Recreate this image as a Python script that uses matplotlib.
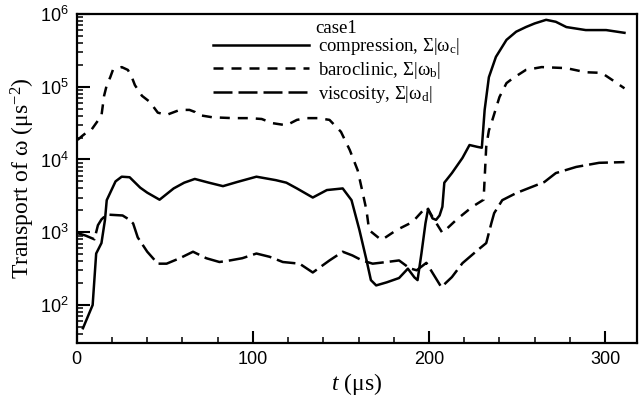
import math
import matplotlib
matplotlib.use('Agg')
import matplotlib.pyplot as plt
from matplotlib.ticker import LogLocator, FuncFormatter, MultipleLocator, NullFormatter

plt.rcParams['font.family'] = ['Liberation Serif', 'DejaVu Serif']
plt.rcParams['mathtext.fontset'] = 'custom'
plt.rcParams['mathtext.rm'] = 'Liberation Serif'
plt.rcParams['mathtext.it'] = 'Liberation Serif:italic'
plt.rcParams['mathtext.sf'] = 'Liberation Sans'

# compression (solid)
t_comp = [3.5, 9, 11, 14, 16, 17, 19, 22, 25.5, 30, 36, 40, 47, 55, 61, 67, 75, 83, 91, 102,
          113, 119, 125, 134, 142, 151, 156, 160.5, 164.5, 167, 170, 176, 183, 188, 191.7, 193.5,
          195.7, 198, 199.5, 202, 204, 206, 207.6, 208.7, 213, 219, 223, 227.5, 230, 231.6, 234,
          238, 244, 249.5, 255, 260, 266.5, 272, 278, 289, 300.6, 311]
v_comp = [48, 100, 510, 710, 1480, 2760, 3500, 5000, 5800, 5700, 4100, 3500, 2800, 4000, 4800, 5400,
          4800, 4300, 4900, 5800, 5200, 4800, 4000, 3000, 3800, 4000, 2760, 1070, 415, 220, 186, 205,
          235, 316, 240, 220, 510, 1330, 2100, 1550, 1480, 1700, 2240, 4800, 6500, 10500, 15800,
          14900, 14500, 48000, 135000, 257000, 440000, 570000, 660000, 740000, 830000, 780000,
          660000, 600000, 600000, 550000]

# baroclinic (short dash)
t_baro = [0.5, 3, 6, 8, 13, 14, 15.5, 17, 19, 20.5, 25.5, 29, 31, 33, 37, 41.4, 46, 51, 58.5, 64,
          67, 68.6, 77, 88.6, 98, 105, 111, 119, 125, 130.5, 137, 143.5, 150, 155, 159.5, 162,
          164.5, 166, 173, 181.5, 190.6, 198.5, 203, 207.6, 215.5, 224.6, 231, 232.5, 234, 236,
          240, 244, 247.5, 255, 264, 278, 289, 298, 304, 311]
v_baro = [18600, 21000, 24000, 25000, 37000, 40000, 75000, 105000, 135000, 170000, 186000, 170000,
          140000, 105000, 75000, 62000, 44000, 41000, 48000, 48000, 45000, 41000, 38000, 37000,
          37000, 36000, 31600, 29500, 35000, 37000, 37000, 35000, 24000, 13500, 7100, 3800, 2000,
          1070, 780, 1070, 1380, 2240, 1480, 980, 1480, 2240, 2800, 15000, 25000, 35000, 72000,
          112000, 130000, 170000, 186000, 180000, 158000, 155000, 124000, 95000]

# viscosity (long dash)
t_visc = [0, 5, 10, 12, 14, 17, 26, 30, 32, 34.6, 40, 46, 51, 58.5, 66, 73.5, 81, 87, 94, 102,
          109.5, 117, 126.5, 134, 143.5, 151, 156.5, 162, 168, 176, 183, 189, 193, 198.5, 207,
          213, 219, 227.5, 232.5, 235.4, 237, 241.6, 249.6, 257, 265.5, 272, 283.6, 296.6, 311]
v_visc = [980, 900, 800, 1250, 1500, 1750, 1700, 1480, 1320, 850, 540, 370, 370, 440, 540, 440, 390,
          410, 440, 510, 460, 390, 370, 280, 410, 540, 480, 410, 370, 390, 410, 320, 300, 380, 176,
          242, 376, 565, 710, 1330, 1830, 2760, 3460, 4070, 4900, 6500, 7900, 9000, 9200]

labels = ['compression, Σ|ω$_\\mathrm{c}$|', 'baroclinic, Σ|ω$_\\mathrm{b}$|',
          'viscosity, Σ|ω$_\\mathrm{d}$|']

fig = plt.figure(figsize=(6.4, 3.98), dpi=100)
ax = fig.add_axes([0.120, 0.138, 0.875, 0.827])

lw = 1.8
ax.plot(t_comp, v_comp, color='black', lw=lw, label=labels[0])
ax.plot(t_baro, v_baro, color='black', lw=lw, dashes=(4.0, 3.2), label=labels[1])
ax.plot(t_visc, v_visc, color='black', lw=lw, dashes=(7.6, 2.4), label=labels[2])

ax.set_yscale('log')
ax.set_xlim(0, 318)
ax.set_ylim(30, 1e6)

ax.yaxis.set_major_locator(LogLocator(base=10, numticks=10))
ax.yaxis.set_minor_locator(LogLocator(base=10, subs=range(2, 10), numticks=20))
ax.yaxis.set_major_formatter(FuncFormatter(lambda v, p: r'$\mathsf{10^{%d}}$' % round(math.log10(v))))
ax.yaxis.set_minor_formatter(NullFormatter())
ax.xaxis.set_major_locator(MultipleLocator(100))
ax.xaxis.set_minor_locator(MultipleLocator(20))

ax.tick_params(which='both', direction='in', top=False, right=False)
ax.tick_params(which='major', length=9, width=1.5, labelsize=13, pad=6)
ax.tick_params(which='minor', length=4.5, width=1.1)
for lab in ax.get_xticklabels():
    lab.set_family('Liberation Sans')
for s in ax.spines.values():
    s.set_linewidth(1.6)

ax.set_xlabel('$t$ (μs)', fontsize=17, labelpad=2)
ax.set_ylabel('Transport of ω (μs$^{-2}$)', fontsize=17, labelpad=2)

leg = ax.legend(loc='upper left', bbox_to_anchor=(0.22, 1.02), frameon=False, fontsize=13.5,
                title='case1', title_fontsize=13.5, handlelength=5.1, labelspacing=0.15,
                handletextpad=0.5, borderpad=0.2)
leg._legend_box.sep = -1

plt.savefig('out.png', dpi=100)
